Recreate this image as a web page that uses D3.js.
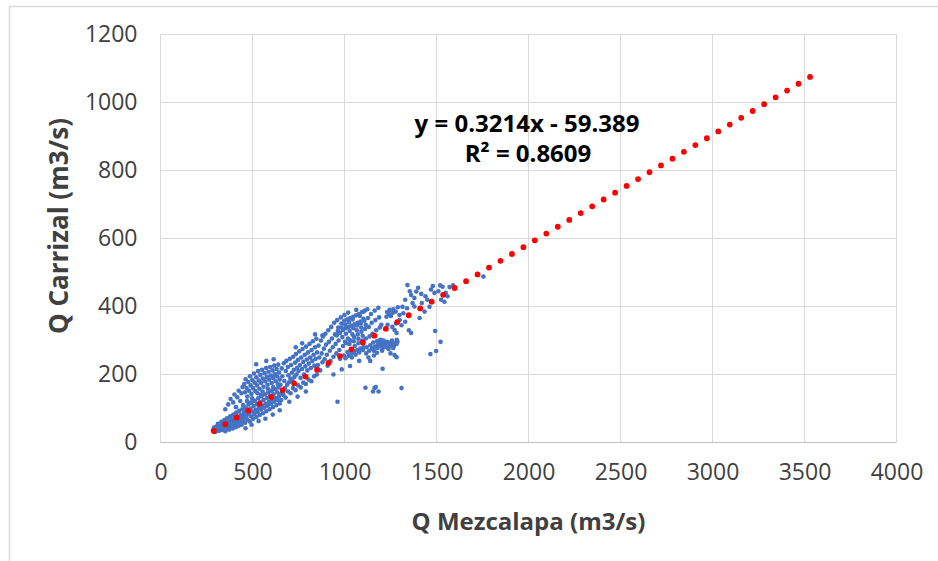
<!DOCTYPE html>
<html>
<head>
<meta charset="utf-8">
<script src="https://cdn.jsdelivr.net/npm/d3@7"></script>
<style>
  html, body { margin: 0; padding: 0; background: #fff; }
  svg { display: block; }
  text { font-family: "Open Sans", "Liberation Sans", sans-serif; fill: #404040; }
</style>
</head>
<body>
<svg id="chart" width="938" height="561"></svg>
<script>
// ---------- DATA ----------
const xTicks = [0, 500, 1000, 1500, 2000, 2500, 3000, 3500, 4000];
const yTicks = [0, 200, 400, 600, 800, 1000, 1200];
const xTitle = "Q Mezcalapa (m3/s)";
const yTitle = "Q Carrizal (m3/s)";
const trendSlope = 0.3214;
const trendIntercept = -59.389;
const trendRange = [290, 3530];
const eqLine1 = "y = 0.3214x - 59.389";
const eqLine2 = "R² = 0.8609";

const lowTip = [
 [285,36],[291,44],[297,31],[303,47],[306,39],[312,55],[317,34],[321,49],[326,42],[331,61],[335,37],[339,52],[343,46],[347,66],[352,33],[355,58],[359,43],[362,71],[366,50],[369,62],[373,38],[376,55],[379,77],[383,47],[386,68],[389,59],[393,41],[396,82],[399,53],[402,72],[405,63],[409,45],[412,88],[415,57],[418,76],[421,66],[425,49],[428,93],[431,61],[434,80],[437,71],[441,52],[444,98],[447,64],[450,84],
 [352,98],[368,112],[381,128],[395,118],[402,141],[410,104],[417,133],[425,152],[433,122],[440,145],[446,163],[449,110]
];
const leftBands = [
 [453,74],[456,91],[460,58],[463,103],[467,80],[471,68],[474,95],[478,112],[481,86],[485,62],[488,100],[492,77],[495,118],[499,91],[503,70],[506,107],[510,84],[513,123],[517,96],[521,75],[524,113],[528,90],[531,130],[535,102],[539,81],[542,119],[546,97],[549,136],[553,108],[557,86],[560,125],[564,102],[567,142],[571,114],[575,92],[578,131],[582,108],[585,147],[589,120],[593,98],[596,137],[600,114],[604,152],[607,126],[611,104],[614,142],[618,120],[622,157],[626,131],[630,110],[634,148],[637,125],[641,162],[645,137],[648,115],
 [455,172],[459,148],[463,186],[468,160],[472,135],[477,178],[481,152],[486,195],[490,168],[494,143],[499,184],[503,160],[508,203],[512,176],[516,151],[521,192],[525,168],[530,210],[534,182],[538,158],[543,199],[547,175],[552,214],[556,188],[560,164],[565,204],[569,180],[574,219],[578,193],[582,170],[587,208],[591,185],[596,222],[600,197],[604,175],[609,212],[613,190],[618,226],[622,201],[626,180],[631,216],[635,194],[640,229],[644,206],[648,185],
 [470,122],[498,130],[527,145],[555,150],[583,158],[612,163],[639,171],[488,117],[545,140],[600,152],
 [462,42],[495,52],[533,63],[570,70],[610,82],[648,95],[520,230],[575,240],[615,245]
];
const transition = [
 [652,170],[655,143],[659,218],[662,195],[666,152],[670,233],[673,181],[677,160],[681,210],[684,240],[688,170],[692,222],[695,198],[699,177],[703,246],[706,188],[710,228],[714,205],[717,182],[721,252],[725,214],[728,193],[732,235],[736,260],[739,200],[743,220],[747,243],[750,210],[754,268],[758,228],[761,190],[765,250],[769,216],[772,275],[776,237],[780,200],[784,258],[787,224],[791,282],[795,244],[798,212],[802,265],[806,232],[810,290],[813,250],[817,219],[821,272],[825,240],[828,298],[832,258],[836,226],[840,280],[843,246],[847,305],[851,265],
 [656,125],[668,140],[680,132],[693,150],[707,145],[720,160],[734,154],[748,168],[762,162],[776,176],[790,172],[805,185],[820,180],[835,195],[850,200],
 [700,120],[745,135],[790,150],[735,280],[770,292],[840,318],[880,315]
];
const middleBlob = [
 [855,228],[859,285],[863,250],[868,212],[872,300],[876,262],[880,236],[884,312],[888,276],[892,245],[896,320],[900,288],[904,258],[908,226],[912,330],[916,296],[920,270],[924,240],[928,340],[932,306],[936,280],[940,252],[944,352],[948,318],[952,290],[956,262],[960,360],[964,328],[968,300],[972,272],[976,246],[980,368],[984,338],[988,310],[992,284],[996,256],[1000,375],[1004,346],[1008,320],[1012,292],[1016,266],[1020,382],[1024,354],[1028,328],[1032,300],[1036,274],[1040,250],[1044,362],[1048,336],[1052,310],[1056,284],[1060,258],[1064,390],[1068,344],[1072,318],[1076,292],[1080,265],[1084,372],[1088,350],[1092,326],[1096,300],[1100,272],[1104,385],[1108,358],[1112,334],[1116,306],[1120,280],[1124,392],[1128,366],[1132,340],[1136,312],[1140,286],[1144,378],[1148,352],[1152,320],[1156,294],[1160,270],[1164,388],[1168,360],[1172,330],[1176,298],[1180,278],[1184,396],[1188,368],[1192,338],[1196,302],[1200,284],
 [958,315],[966,338],[975,322],[983,350],[991,330],[999,358],[1007,336],[1015,362],[1023,340],[1031,366],[1039,344],[1047,370],[1055,348],[1063,374],[1071,352],[1079,378],[1087,356],[1095,384],[1103,364],[1111,388],[1019,306],[1043,318],[1067,330],[1091,338],[1115,346],[1003,296],[1027,290],[1051,298],[1075,305],[1099,314],
 [1005,248],[1022,255],[1038,262],[1054,268],[1070,272],[1086,276],[1102,280],[1118,262],[1134,270],[1150,276],[1166,282],[1182,288],[1198,292],[1214,280],[1228,296],[1244,286],[1258,300],[1272,292],[1288,296],[1204,270],[1220,288],[1236,278],[1252,294],[1268,284],[1284,302],[1190,300],[1176,264],[1160,256],[1130,250],[1212,300],
 [962,120],[1114,161],[1155,150],[1163,160],[1170,163],[1185,150],[1283,251],[1272,257],[1310,160],[1207,217],[1493,328],[1522,296],[1498,269],[1467,260],[940,200],[985,215],[1030,225],[1080,240],[1140,240],[1250,262]
];
const upperRight = [
 [1342,463],[1362,434],[1390,444],[1417,437],[1489,440],[1533,458],[1571,457],[1543,414],[1462,399],[1435,385],[1408,366],[1370,410],[1315,399],[1261,381],[1245,390],[1228,370],[1240,378],[1252,372],[1265,392],[1278,385],[1290,398],[1299,375],[1232,384],[1200,346],[1234,346],[1272,331],[1283,322],[1362,322],[1350,330],[1190,290],[1205,275],[1220,282],[1235,295],[1250,285],[1265,278],[1283,290],[1200,300],[1215,290],[1240,275],[1330,420],[1355,445],[1380,425],[1400,455],[1440,430],[1470,450],[1510,445],[1550,440],[1590,462],[1525,420],[1560,430],[1320,380],[1300,360],[1340,395],[1380,400],[1420,410],[1450,420],[1600,455],[1755,488],[1310,345],[1330,355],[1280,350],[1260,340],[1520,462],[1480,460]
];
const observations = [].concat(lowTip, leftBands, transition, middleBlob, upperRight);

// ---------- CHART ----------
const svg = d3.select("#chart");
const x = d3.scaleLinear().domain([0, 4000]).range([160.5, 896.5]);
const y = d3.scaleLinear().domain([0, 1200]).range([442.5, 34.5]);

// outer chart border
svg.append("rect").attr("x", 9.5).attr("y", 6.5).attr("width", 1000).attr("height", 1000)
  .attr("fill", "none").attr("stroke", "#d9d9d9").attr("stroke-width", 1.5);

// gridlines
svg.append("g").selectAll("line").data(yTicks.filter(d => d !== 0)).join("line")
  .attr("x1", x(0)).attr("x2", x(4000)).attr("y1", d => y(d)).attr("y2", d => y(d))
  .attr("stroke", "#d9d9d9").attr("stroke-width", 1);
svg.append("g").selectAll("line").data(xTicks).join("line")
  .attr("x1", d => x(d)).attr("x2", d => x(d)).attr("y1", y(0)).attr("y2", y(1200))
  .attr("stroke", "#d9d9d9").attr("stroke-width", 1);
svg.append("line").attr("x1", x(0)).attr("x2", x(4000)).attr("y1", y(0)).attr("y2", y(0))
  .attr("stroke", "#bfbfbf").attr("stroke-width", 1);

// axes (labels only)
const fmt = d3.format("d");
const yAxis = d3.axisLeft(y).tickValues(yTicks).tickFormat(fmt).tickSize(0).tickPadding(23);
const gy = svg.append("g").attr("transform", `translate(${x(0)},0)`).call(yAxis);
gy.select(".domain").remove();
gy.selectAll("text").style("font-size", "23px").attr("fill", "#404040");

const xAxis = d3.axisBottom(x).tickValues(xTicks).tickFormat(fmt).tickSize(0).tickPadding(21);
const gx = svg.append("g").attr("transform", `translate(0,${y(0)})`).call(xAxis);
gx.select(".domain").remove();
gx.selectAll("text").style("font-size", "23px").attr("fill", "#404040");

// axis titles
svg.append("text").attr("x", (x(0) + x(4000)) / 2).attr("y", 530)
  .attr("text-anchor", "middle").style("font-size", "24px").style("font-weight", "bold")
  .text(xTitle);
svg.append("text").attr("transform", `translate(68,226) rotate(-90)`)
  .attr("text-anchor", "middle").style("font-size", "26px").style("font-weight", "bold")
  .text(yTitle);

// observations
svg.append("g").selectAll("circle").data(observations).join("circle")
  .attr("cx", d => x(d[0])).attr("cy", d => y(d[1])).attr("r", 2.3)
  .attr("fill", "#4472C4");

// trendline (round dot), spacing adjusted so dots land on both ends
const trendPts = trendRange.map(v => [v, trendSlope * v + trendIntercept]);
const trendPath = svg.append("path").datum(trendPts)
  .attr("d", d3.line().x(d => x(d[0])).y(d => y(d[1])))
  .attr("fill", "none").attr("stroke", "#FF0000").attr("stroke-width", 5.8)
  .attr("stroke-linecap", "round");
const len = trendPath.node().getTotalLength();
const gap = len / Math.round(len / 13.4);
trendPath.attr("stroke-dasharray", `0 ${gap}`);

// equation
svg.append("text").attr("x", 527).attr("y", 132).attr("text-anchor", "middle")
  .style("font-size", "24px").style("font-weight", "bold").style("fill", "#000")
  .text(eqLine1);
svg.append("text").attr("x", 528).attr("y", 162).attr("text-anchor", "middle")
  .style("font-size", "24px").style("font-weight", "bold").style("fill", "#000")
  .text(eqLine2);
</script>
</body>
</html>
